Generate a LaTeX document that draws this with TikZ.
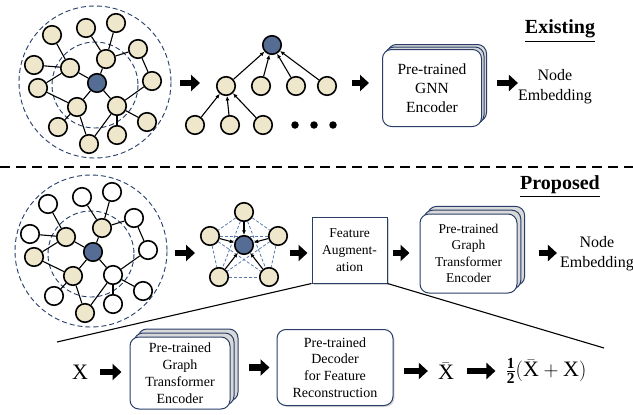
\documentclass[tikz,border=0pt]{standalone}
\usepackage{amsmath}
\usepackage{fontspec}
\setmainfont{Liberation Serif}
\usepackage{tikz}
\usetikzlibrary{calc}
\usetikzlibrary{positioning}
\usetikzlibrary{shadows}
\usetikzlibrary{backgrounds}
\usetikzlibrary{arrows.meta}

\definecolor{nodebeige}{RGB}{238,231,204}
\definecolor{nodeblue}{RGB}{85,108,148}
\definecolor{ringblue}{RGB}{35,60,105}
\definecolor{boxblue}{RGB}{40,62,105}
\definecolor{linkblue}{RGB}{90,122,172}

\begin{document}
\begin{tikzpicture}[x=1pt, y=-1pt,
	vertex/.style={draw, circle, line width=1.6pt, minimum size=18.5pt, inner sep=0pt, fill=white},
	sampled/.style={vertex, fill=nodebeige},
	target/.style={vertex, fill=nodeblue},
	edge/.style={line width=1.1pt},
	treearrow/.style={line width=1.1pt, -{Latex[length=4.5pt, width=4pt]}},
	link/.style={draw=linkblue, line width=0.8pt, dash pattern=on 3pt off 2pt},
	ring/.style={draw=ringblue, line width=0.9pt, dash pattern=on 5pt off 3pt},
	dot/.style={circle, fill=black, inner sep=0pt, minimum size=7.5pt},
	bigarrow/.style={line width=6.5pt, -{Triangle[length=9pt, width=16pt]}},
	encbox/.style={draw=boxblue, fill=white, line width=1pt, rounded corners=9pt, align=center, inner sep=0pt},
	stack/.style={double copy shadow={shadow xshift=#1, shadow yshift=#1, draw=boxblue, fill=gray!30, line width=1pt}},
	fabox/.style={draw=boxblue, fill=white, line width=1pt, align=center, inner sep=0pt,
		drop shadow={shadow xshift=2pt, shadow yshift=-2pt, opacity=0.35}},
	embtext/.style={align=center, inner sep=0pt, font=\fontsize{16}{20}\selectfont},
	heading/.style={inner sep=0pt, font=\fontsize{20}{24}\selectfont\bfseries},
	bigmath/.style={inner sep=0pt, font=\fontsize{22}{26}\selectfont},
	zoomline/.style={line width=1.1pt},
	sepline/.style={line width=1.8pt, dash pattern=on 10pt off 6pt}
	]
	\useasboundingbox (0,0) rectangle (633,415);

	% existing: neighbourhood
	\draw[ring] (95,82) circle (76);
	\draw[ring] (95,85) circle (43);

	\node[target] (e0) at (97,83) {};
	\node[sampled] (e1) at (52,35) {};
	\node[sampled] (e2) at (86,28) {};
	\node[sampled] (e3) at (116,23) {};
	\node[sampled] (e4) at (138,49) {};
	\node[sampled] (e5) at (106,59) {};
	\node[sampled] (e6) at (70,68) {};
	\node[sampled] (e7) at (34,65) {};
	\node[sampled] (e8) at (38,88) {};
	\node[sampled] (e9) at (152,81) {};
	\node[sampled] (e10) at (77,107) {};
	\node[sampled] (e11) at (117,106) {};
	\node[sampled] (e12) at (147,122) {};
	\node[sampled] (e13) at (58,127) {};
	\node[sampled] (e14) at (89,144) {};
	\node[sampled] (e15) at (117,135) {};

	\foreach \a/\b in {1/6, 7/6, 8/6, 8/10, 6/0, 5/0, 2/5, 3/5, 5/4, 4/9, 9/11, 0/11, 0/10, 10/13, 10/14, 11/14, 11/15, 11/12}
		\path[draw, edge] (e\a) -- (e\b);

	% existing: tree
	\node[target] (t0) at (272,45) {};
	\node[sampled] (t1) at (226,86) {};
	\node[sampled] (t2) at (261,86) {};
	\node[sampled] (t3) at (296,86) {};
	\node[sampled] (t4) at (327,86) {};
	\node[sampled] (t5) at (195,125) {};
	\node[sampled] (t6) at (230,125) {};
	\node[sampled] (t7) at (263,125) {};
	\node[dot] (d1) at (295,125) {};
	\node[dot] (d2) at (314,125) {};
	\node[dot] (d3) at (333,125) {};

	\foreach \c in {1,2,3,4}
		\draw[treearrow] (t\c) -- (t0);
	\foreach \c in {5,6,7}
		\draw[treearrow] (t\c) -- (t1);

	\node[encbox, stack=2.5pt, minimum width=99pt, minimum height=77pt, font=\fontsize{15.5}{19}\selectfont] (exenc) at (432,88) {Pre-trained\\GNN\\Encoder};
	\node[embtext] (exemb) at (555,87) {Node\\Embedding};
	\node[heading] (exist) at (560,31) {\underline{Existing}};

	\coordinate (a1s) at (180,83);
	\coordinate (a1e) at (200,83);
	\coordinate (a2s) at (352,83);
	\draw[bigarrow] (a1s) -- (a1e);
	\draw[bigarrow, shorten >=13pt] (a2s) -- (a2s -| exenc.west);
	\draw[bigarrow, shorten <=15pt] (exenc.east |- a2s) -- (exemb.west |- a2s);

	% separator
	\coordinate (sl) at (0,167);
	\coordinate (sr) at (633,167);
	\draw[sepline] (sl) -- (sr);

	% proposed: neighbourhood
	\begin{scope}[shift={(-4,169)}]
		\draw[ring] (95,82) circle (76);
		\draw[ring] (95,85) circle (43);

		\node[target] (p0) at (97,83) {};
		\node[vertex] (p1) at (52,35) {};
		\node[vertex] (p2) at (86,28) {};
		\node[vertex] (p3) at (116,23) {};
		\node[vertex] (p4) at (138,49) {};
		\node[sampled] (p5) at (106,59) {};
		\node[sampled] (p6) at (70,68) {};
		\node[vertex] (p7) at (34,65) {};
		\node[sampled] (p8) at (38,88) {};
		\node[vertex] (p9) at (152,81) {};
		\node[sampled] (p10) at (77,107) {};
		\node[vertex] (p11) at (117,106) {};
		\node[vertex] (p12) at (147,122) {};
		\node[vertex] (p13) at (58,127) {};
		\node[sampled] (p14) at (89,144) {};
		\node[vertex] (p15) at (117,135) {};
	\end{scope}

	\foreach \a/\b in {1/6, 7/6, 8/6, 8/10, 6/0, 5/0, 2/5, 3/5, 5/4, 4/9, 9/11, 0/11, 0/10, 10/13, 10/14, 11/14, 11/15, 11/12}
		\path[draw, edge] (p\a) -- (p\b);

	% proposed: fully connected sample
	\node[target] (q0) at (244,245) {};
	\node[sampled] (q1) at (244,212) {};
	\node[sampled] (q2) at (210,236) {};
	\node[sampled] (q3) at (278,236) {};
	\node[sampled] (q4) at (219,277) {};
	\node[sampled] (q5) at (269,277) {};

	\begin{scope}[on background layer]
		\foreach \a/\b in {1/2, 1/3, 1/4, 1/5, 2/3, 2/4, 2/5, 3/4, 3/5, 4/5}
			\path[link] (q\a.center) -- (q\b.center);
	\end{scope}
	\foreach \c in {1,...,5}
		\draw[treearrow] (q\c) -- (q0);

	\node[fabox, minimum width=75pt, minimum height=66pt, font=\fontsize{13.5}{17}\selectfont] (fa) at (349.5,250) {Feature\\Augment-\\ation};
	\node[encbox, stack=3.8pt, minimum width=97pt, minimum height=79pt, font=\fontsize{13.5}{16.5}\selectfont] (penc) at (468.5,253.5) {Pre-trained\\Graph\\Transformer\\Encoder};
	\node[embtext] (pemb) at (597,254) {Node\\Embedding};
	\node[heading] (prop) at (560,187) {\underline{Proposed}};

	\coordinate (b1s) at (175,253);
	\coordinate (b1e) at (195,253);
	\coordinate (b2s) at (290,253);
	\draw[bigarrow] (b1s) -- (b1e);
	\draw[bigarrow, shorten >=4pt] (b2s) -- (b2s -| fa.west);
	\draw[bigarrow, shorten <=5pt, shorten >=10pt] (fa.east |- b2s) -- (penc.west |- b2s);
	\draw[bigarrow, shorten <=21pt, shorten >=3pt] (penc.east |- b2s) -- (pemb.west |- b2s);

	% zoom into feature augmentation
	\coordinate (zl) at (57,342);
	\coordinate (zr) at (604,348);
	\draw[zoomline] (fa.south west) -- (zl);
	\draw[zoomline] (fa.south east) -- (zr);

	\node[bigmath] (x) at (80,372) {X};
	\node[encbox, stack=4pt, minimum width=100pt, minimum height=72pt, font=\fontsize{14}{17}\selectfont] (benc) at (180,373) {Pre-trained\\Graph\\Transformer\\Encoder};
	\node[encbox, minimum width=116pt, minimum height=76pt, font=\fontsize{14}{16.7}\selectfont,
		drop shadow={shadow xshift=1.5pt, shadow yshift=-1.5pt, opacity=0.3}] (dec) at (335,367.5) {Pre-trained\\Decoder\\for Feature\\Reconstruction};
	\node[bigmath] (xbar) at (446,371) {$\bar{\mathrm{X}}$};
	\node[bigmath] (avg) at (546,371) {$\frac{\mathbf{1}}{\mathbf{2}}(\bar{\mathrm{X}}+\mathrm{X})$};

	\draw[bigarrow, shorten <=12pt, shorten >=8pt] (x.east) -- (x.east -| benc.west);
	\draw[bigarrow, shorten <=18pt, shorten >=7pt] (benc.east |- dec) -- (dec.west);
	\draw[bigarrow, shorten <=10pt, shorten >=10pt] (dec.east |- xbar) -- (xbar.west);
	\draw[bigarrow, shorten <=13pt, shorten >=10pt] (xbar.east) -- (xbar.east -| avg.west);
\end{tikzpicture}
\end{document}
